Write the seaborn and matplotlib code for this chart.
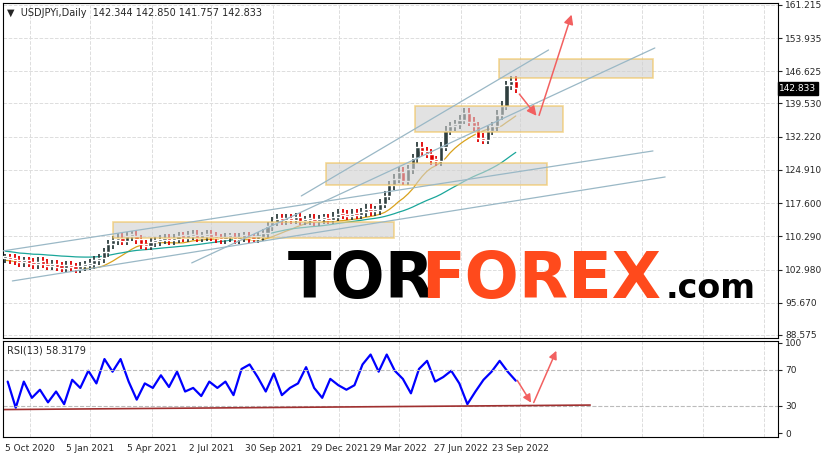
import numpy as np
import pandas as pd
import matplotlib.pyplot as plt
import seaborn as sns

# ── data (weekly closes) ──────────────────────────────────────
closes = [105.5, 105.3, 105.0, 104.6, 104.8, 104.5,
          104.2, 104.7, 104.3, 103.8, 104.0, 103.6, 103.4,
          103.8, 103.5, 103.2, 103.7, 103.9,
          104.2, 105.0, 105.5, 106.8, 108.5,
          109.4, 110.0, 109.3, 110.3, 110.4,
          109.6, 108.5, 108.2, 109.0, 109.2,
          109.5, 109.8, 109.4, 109.8, 110.2, 110.0, 110.4, 110.6,
          110.0, 110.3, 110.6, 110.2, 109.9, 109.6, 110.1,
          110.1, 109.7, 110.0, 110.3, 109.9, 109.8, 110.2, 111.0, 112.5,
          113.5, 114.2, 113.8, 114.3, 113.9, 114.5, 113.7, 113.8, 114.2, 113.6, 114.0, 114.3, 113.9, 114.6,
          115.3, 115.0, 114.8, 115.3, 115.0, 115.6, 116.3, 115.8,
          116.0, 117.5, 119.2, 121.5, 123.0, 124.5, 122.5, 125.0, 127.5, 130.0,
          129.0, 128.5, 127.0, 126.8, 130.0, 133.5, 134.5, 135.0, 136.0, 137.5,
          135.5, 134.5, 132.0, 131.5, 133.5, 134.5, 137.0, 139.0, 143.5, 144.5, 142.833]

rsi_values = [57, 28, 57, 39, 48, 34, 46, 32, 59, 50, 69, 55, 82, 68, 82, 57, 37, 55, 50, 64,
              51, 68, 46, 50, 41, 57, 50, 57, 42, 71, 76, 62, 46, 66, 42, 50, 55, 73, 50, 39,
              60, 53, 48, 53, 76, 87, 68, 87, 69, 60, 44, 71, 80, 57, 62, 69, 55, 32, 46, 59,
              68, 80, 68, 58]

price_ticks = [161.215, 153.935, 146.625, 139.530, 132.220, 124.910, 117.600,
               110.290, 102.980, 95.670, 88.575]
date_labels = ['5 Oct 2020', '5 Jan 2021', '5 Apr 2021', '2 Jul 2021', '30 Sep 2021',
               '29 Dec 2021', '29 Mar 2022', '27 Jun 2022', '23 Sep 2022']
date_pos = [5.3, 18.1, 31.3, 44.0, 57.2, 71.3, 84.0, 97.2, 110.0]

# zones: (x0, x1, y_low, y_high)
zones = [(23, 83, 109.9, 113.4), (68.5, 115.7, 121.6, 126.4),
         (87.4, 119.1, 133.3, 139.0), (105.5, 138.3, 145.1, 149.3)]
# trend lines: (x0, y0, x1, y1)
trend_lines = [(-0.6, 107.06, 138.3, 129.08), (1.5, 100.46, 140.9, 123.35),
               (39.8, 104.43, 138.7, 151.75), (63.2, 119.17, 116.0, 151.31)]
arrow_x = [109.4, 113.8, 121.1]
arrow_y = [142.07, 136.34, 159.67]
rsi_arrow_x = [109.0, 112.6, 117.9]
rsi_arrow_y = [61, 31, 94]
rsi_line = (-0.6, 26, 124.9, 31)

sns.set_style('white')
plt.rcParams['font.family'] = ['DejaVu Sans']

df = pd.DataFrame({'i': np.arange(len(closes)), 'close': closes})
df['open'] = df['close'].shift(1).fillna(df['close'].iloc[0])
df['ma_fast'] = df['close'].rolling(10, min_periods=1).mean() - 0.5
df['ma_slow'] = df['close'].rolling(40, min_periods=1).mean() + 1.5

fig = plt.figure(figsize=(8.28, 4.55), dpi=100)
ax = fig.add_axes([3 / 828, 117 / 455, 775 / 828, 335 / 455])
ax_r = fig.add_axes([3 / 828, 18 / 455, 775 / 828, 96 / 455], sharex=ax)
XMAX = 165

for a in (ax, ax_r):
    for s in a.spines.values():
        s.set_color('black')
        s.set_linewidth(0.8)
    a.yaxis.tick_right()
    a.tick_params(axis='both', labelsize=6.5, length=3, pad=2)
    a.set_xlim(-0.5, XMAX)

# grid
for p in price_ticks:
    ax.axhline(p, color='#dddddd', ls='--', lw=0.7, zorder=0)
for d in date_pos + [123.0, 136.0, 149.0, 162.0]:
    ax.axvline(d, color='#dddddd', ls='--', lw=0.7, zorder=0)
    ax_r.axvline(d, color='#dddddd', ls='--', lw=0.7, zorder=0)

# candles
hi = np.maximum(df['open'], df['close']) + 1.0
lo = np.minimum(df['open'], df['close']) - 1.0
up = df['close'] >= df['open']
cols = np.where(up, '#2f3f3f', '#e00000')
ax.vlines(df['i'], lo, hi, color=cols, lw=1.3, zorder=3)
ax.bar(df['i'], (df['close'] - df['open']).abs().clip(lower=0.5),
       bottom=np.minimum(df['open'], df['close']), width=0.9, color=cols, zorder=3)

sns.lineplot(data=df, x='i', y='ma_fast', ax=ax, color='#d9a21c', lw=0.9, zorder=2)
sns.lineplot(data=df, x='i', y='ma_slow', ax=ax, color='#1aa69a', lw=0.9, zorder=2)

for x0, x1, y0, y1 in zones:
    ax.add_patch(plt.Rectangle((x0, y0), x1 - x0, y1 - y0, facecolor='#cfcfcf', alpha=0.6,
                               edgecolor='#f0c050', lw=1.2, zorder=4))
for x0, y0, x1, y1 in trend_lines:
    ax.plot([x0, x1], [y0, y1], color='#9ab8c6', lw=0.9, zorder=5)

ax.annotate('', xy=(arrow_x[1], arrow_y[1]), xytext=(arrow_x[0], arrow_y[0]),
            arrowprops=dict(arrowstyle='-|>', color='#f26060', lw=1.1, mutation_scale=14), zorder=6)
ax.annotate('', xy=(arrow_x[2], arrow_y[2]), xytext=(arrow_x[1], arrow_y[1]),
            arrowprops=dict(arrowstyle='-|>', color='#f26060', lw=1.1, mutation_scale=14), zorder=6)

ax.set_ylim(87.9, 161.65)
ax.set_yticks(price_ticks)
ax.set_yticklabels([f'{p:.3f}' for p in price_ticks])
ax.set_xlabel('')
ax.set_ylabel('')
ax.tick_params(axis='x', labelbottom=False, length=0)
ax.text(XMAX + 0.3, closes[-1], f'{closes[-1]:.3f}', fontsize=6.5, color='white', va='center',
        ha='left', bbox=dict(boxstyle='square,pad=0.2', fc='black', ec='black'), zorder=7,
        clip_on=False)

ax.text(0.005, 0.985, '▼  USDJPYi,Daily  142.344 142.850 141.757 142.833', transform=ax.transAxes,
        fontsize=7, va='top')

# watermark
ax.text(0.368, 0.12, 'TOR', transform=ax.transAxes, fontsize=46, fontweight='heavy',
        color='black', zorder=8)
ax.text(0.540, 0.12, 'FOREX', transform=ax.transAxes, fontsize=46, fontweight='heavy',
        color='#ff4a1c', zorder=8)
ax.text(0.855, 0.12, '.com', transform=ax.transAxes, fontsize=24, fontweight='heavy',
        color='black', zorder=8)

# RSI panel
rsi_x = np.linspace(0.5, 109, len(rsi_values))
sns.lineplot(x=rsi_x, y=rsi_values, ax=ax_r, color='#0000ff', lw=1.6)
for lvl in (70, 30):
    ax_r.axhline(lvl, color='#bbbbbb', ls='--', lw=0.8)
ax_r.plot([rsi_line[0], rsi_line[2]], [rsi_line[1], rsi_line[3]], color='#a03030', lw=1.2)
ax_r.annotate('', xy=(rsi_arrow_x[1], rsi_arrow_y[1]), xytext=(rsi_arrow_x[0], rsi_arrow_y[0]),
              arrowprops=dict(arrowstyle='-|>', color='#f26060', lw=1.1, mutation_scale=12))
ax_r.annotate('', xy=(rsi_arrow_x[2], rsi_arrow_y[2]), xytext=(rsi_arrow_x[1], rsi_arrow_y[1]),
              arrowprops=dict(arrowstyle='-|>', color='#f26060', lw=1.1, mutation_scale=12))
ax_r.set_ylim(-4.4, 102)
ax_r.set_yticks([100, 70, 30, 0])
ax_r.text(0.005, 0.95, 'RSI(13) 58.3179', transform=ax_r.transAxes, fontsize=7, va='top')
ax_r.set_xticks(date_pos)
ax_r.set_xticklabels(date_labels)
ax_r.tick_params(axis='x', labelsize=6.5)

fig.savefig('out.png', dpi=100, facecolor='white')
